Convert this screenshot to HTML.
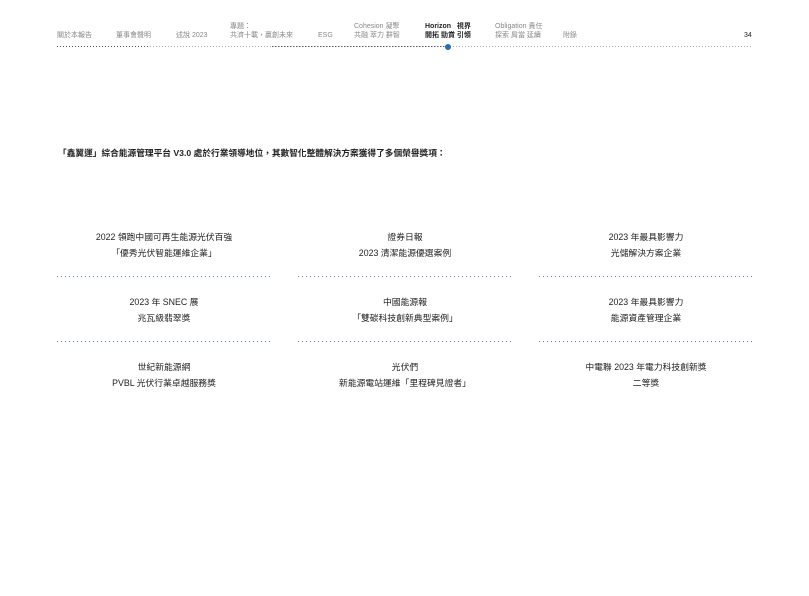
<!DOCTYPE html>
<html><head><meta charset="utf-8"><style>
body{margin:0;width:809px;height:596px;background:#fff;position:relative;font-family:"Liberation Sans","Noto Sans CJK TC",sans-serif;color:#222;overflow:hidden}
.n{position:absolute;font-size:7px;color:#888;line-height:9px;white-space:nowrap}
.b{color:#222;font-weight:bold}
.hl{position:absolute;top:46px;height:1px;background:repeating-linear-gradient(90deg,#aaa 0 1px,transparent 1px 3px)}
.hd{background:repeating-linear-gradient(90deg,#555 0 1px,transparent 1px 3px)}
.dot{position:absolute;left:445px;top:44px;width:6px;height:6px;border-radius:50%;background:#2a6bb5}
.t{position:absolute;font-size:8.8px;line-height:16px;text-align:center;width:214px;color:#222}
.d{position:absolute;width:214px;height:1px;background:repeating-linear-gradient(90deg,#5a7fb0 0 1px,transparent 1px 4px)}
</style></head><body>
<div class="n" style="left:57px;top:31px">關於本報告</div>
<div class="n" style="left:116px;top:31px">董事會聲明</div>
<div class="n" style="left:176px;top:31px">述說 2023</div>
<div class="n" style="left:230px;top:22px">專題：<br>共濟十載，贏創未來</div>
<div class="n" style="left:318px;top:31px">ESG</div>
<div class="n" style="left:354px;top:22px">Cohesion 凝聚<br>共融 萃力 群智</div>
<div class="n b" style="left:425px;top:22px">Horizon &nbsp;&nbsp;視界<br>開拓 勁賞 引領</div>
<div class="n" style="left:495px;top:22px">Obligation 責任<br>探索 肩當 延續</div>
<div class="n" style="left:563px;top:31px">附錄</div>
<div class="n" style="left:744px;top:31px;color:#222">34</div>
<div class="hl" style="left:57px;width:696px"></div>
<div class="hl hd" style="left:57px;width:92px"></div>
<div class="hl hd" style="left:272px;width:176px"></div>
<div class="dot"></div>
<div style="position:absolute;left:58px;top:146px;font-size:8.7px;font-weight:bold;white-space:nowrap">「鑫翼運」綜合能源管理平台 V3.0 處於行業領導地位，其數智化整體解決方案獲得了多個榮譽獎項：</div>

<div class="t" style="left:57px;top:229px">2022 領跑中國可再生能源光伏百強<br>「優秀光伏智能運維企業」</div>
<div class="t" style="left:298px;top:229px">證券日報<br>2023 清潔能源優選案例</div>
<div class="t" style="left:539px;top:229px">2023 年最具影響力<br>光儲解決方案企業</div>
<div class="d" style="left:57px;top:276px"></div><div class="d" style="left:298px;top:276px"></div><div class="d" style="left:539px;top:276px"></div>
<div class="t" style="left:57px;top:294px">2023 年 SNEC 展<br>兆瓦級翡翠獎</div>
<div class="t" style="left:298px;top:294px">中國能源報<br>「雙碳科技創新典型案例」</div>
<div class="t" style="left:539px;top:294px">2023 年最具影響力<br>能源資產管理企業</div>
<div class="d" style="left:57px;top:341px"></div><div class="d" style="left:298px;top:341px"></div><div class="d" style="left:539px;top:341px"></div>
<div class="t" style="left:57px;top:359px">世紀新能源網<br>PVBL 光伏行業卓越服務獎</div>
<div class="t" style="left:298px;top:359px">光伏們<br>新能源電站運維「里程碑見證者」</div>
<div class="t" style="left:539px;top:359px">中電聯 2023 年電力科技創新獎<br>二等獎</div>
</body></html>
